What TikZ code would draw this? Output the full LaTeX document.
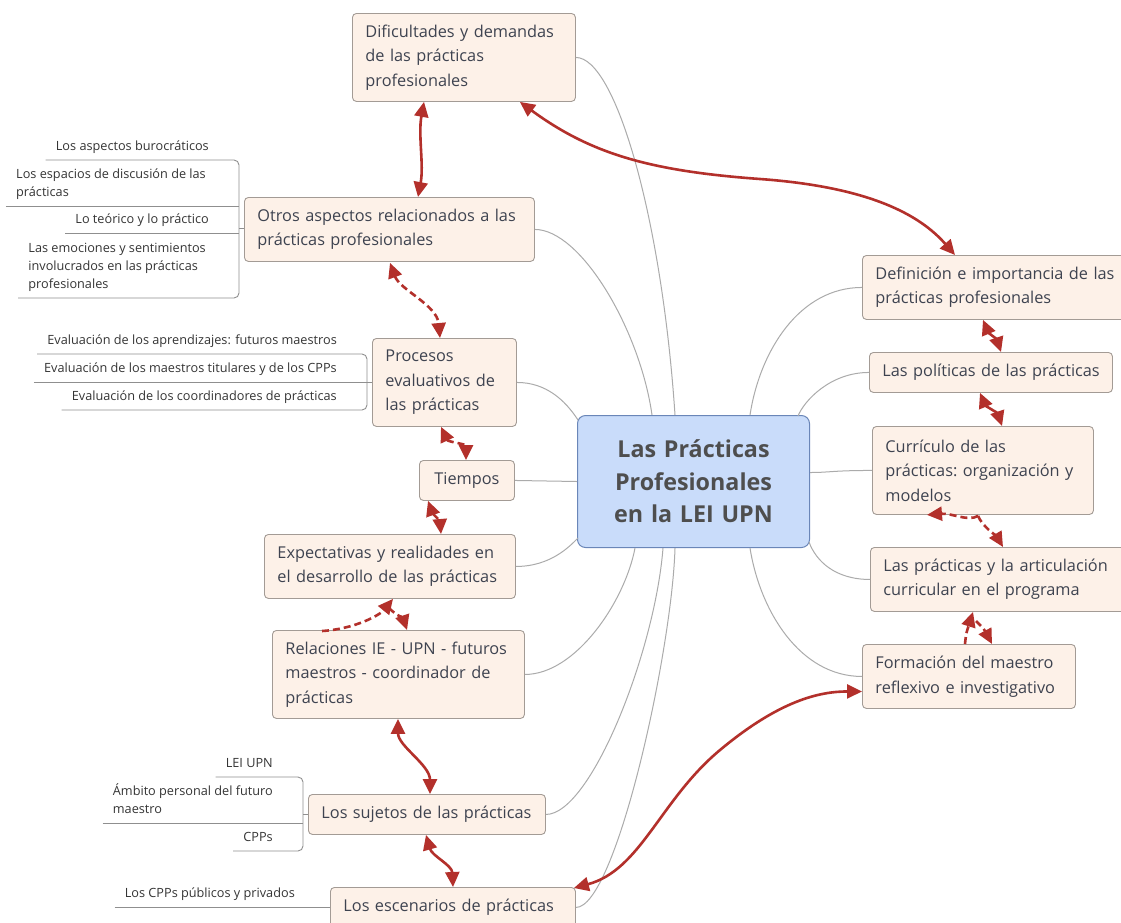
\documentclass[tikz,border=0pt]{standalone}
\usepackage{fontspec}
\setmainfont{Open Sans}
\usetikzlibrary{arrows.meta,calc}

\definecolor{relred}{HTML}{B3302B}
\definecolor{topicfill}{HTML}{FDF1E8}
\definecolor{topicline}{HTML}{A39B95}
\definecolor{topictext}{HTML}{3E4350}
\definecolor{hubfill}{HTML}{C9DCFA}
\definecolor{hubline}{HTML}{6A86B8}
\definecolor{hubtext}{HTML}{4E4E4E}
\definecolor{branchgray}{HTML}{ABABAB}
\definecolor{subgray}{HTML}{8F8F8F}
\definecolor{subtext}{HTML}{353535}

\newcommand\topicfont{\fontsize{16.3}{24.5}\selectfont\hyphenpenalty=10000\exhyphenpenalty=10000}
\newcommand\subfont{\fontsize{12.7}{18}\selectfont}
\newcommand\hubfont{\fontsize{23.3}{32.5}\selectfont\bfseries}

\begin{document}
\begin{tikzpicture}[x=1pt,y=-1pt,
  topic/.style={draw=topicline, fill=topicfill, rounded corners=4pt, line width=0.9pt,
    text=topictext, font=\topicfont, align=left, anchor=north west,
    inner xsep=13pt, inner ysep=0pt},
  hub/.style={draw=hubline, fill=hubfill, rounded corners=8pt, line width=1pt,
    text=hubtext, font=\hubfont, align=center, anchor=north west,
    inner xsep=8pt, inner ysep=0pt},
  subtxt/.style={font=\subfont, text=subtext, align=left, anchor=south east,
    inner xsep=10pt, inner ysep=4.2pt},
  subline/.style={draw=subgray, line width=0.9pt},
  branch/.style={draw=branchgray, line width=1pt},
  tipA/.tip={Triangle[length=15pt,width=14pt]},
  rel/.style={draw=relred, line width=2.6pt},
  reldash/.style={rel, dash pattern=on 7pt off 4pt},
]
\useasboundingbox (0,0) rectangle (1121,922);
\fill[white] (0,0) rectangle (1121,922);
\clip (0,0) rectangle (1121,922);

% ---------- central topic ----------
\node[hub, minimum width=232pt, minimum height=132pt, text width=216pt] (C) at (577,415)
  {Las Prácticas\\Profesionales\\en la LEI UPN};

% ---------- main topics, left side ----------
\node[topic, minimum width=223pt, minimum height=88pt, text width=197pt] (D) at (352,13)
  {Dificultades~y~demandas\\de~las~prácticas\\profesionales};
\node[topic, minimum width=290pt, minimum height=64pt, text width=264pt] (O) at (244,197)
  {Otros~aspectos~relacionados~a~las\\prácticas~profesionales};
\node[topic, minimum width=144pt, minimum height=88pt, text width=118pt] (P) at (372,338)
  {Procesos\\evaluativos~de\\las~prácticas};
\node[topic, minimum width=95pt, minimum height=40pt, text width=69pt, align=center] (T) at (419,460)
  {Tiempos};
\node[topic, minimum width=251pt, minimum height=64pt, text width=225pt] (E) at (264,534)
  {Expectativas~y~realidades~en\\el~desarrollo~de~las~prácticas};
\node[topic, minimum width=252pt, minimum height=88pt, text width=226pt] (R) at (272,630)
  {Relaciones~IE~-~UPN~-~futuros\\maestros~-~coordinador~de\\prácticas};
\node[topic, minimum width=237pt, minimum height=40pt, text width=211pt] (S) at (308,794)
  {Los~sujetos~de~las~prácticas};
\node[topic, minimum width=245pt, minimum height=40pt, text width=219pt] (Esc) at (330,887)
  {Los~escenarios~de~prácticas};

% ---------- main topics, right side ----------
\node[topic, minimum width=270pt, minimum height=64pt, text width=244pt] (Def) at (862,255)
  {Definición~e~importancia~de~las\\prácticas~profesionales};
\node[topic, minimum width=243pt, minimum height=40pt, text width=217pt] (Pol) at (869,352)
  {Las~políticas~de~las~prácticas};
\node[topic, minimum width=221pt, minimum height=88pt, text width=195pt] (Cur) at (872,426)
  {Currículo~de~las\\prácticas:~organización~y\\modelos};
\node[topic, minimum width=265pt, minimum height=64pt, text width=239pt] (Art) at (870,547)
  {Las~prácticas~y~la~articulación\\curricular~en~el~programa};
\node[topic, minimum width=213pt, minimum height=64pt, text width=187pt] (Form) at (862,644)
  {Formación~del~maestro\\reflexivo~e~investigativo};

% ---------- attachment points on the central topic ----------
\coordinate (cD)    at ($(C.north west)+(98,0)$);
\coordinate (cO)    at ($(C.north west)+(75,0)$);
\coordinate (cP)    at ($(C.north west)+(1,5)$);
\coordinate (cT)    at (C.west);
\coordinate (cE)    at ($(C.south west)+(1,-10)$);
\coordinate (cR)    at ($(C.south west)+(58,0)$);
\coordinate (cS)    at ($(C.south west)+(86,0)$);
\coordinate (cEsc)  at ($(C.south west)+(98,0)$);
\coordinate (cDef)  at ($(C.north west)+(173,0)$);
\coordinate (cPol)  at ($(C.north west)+(221,1)$);
\coordinate (cCur)  at ($(C.east)+(0,-9)$);
\coordinate (cArt)  at ($(C.south east)+(-1,-6)$);
\coordinate (cForm) at ($(C.south west)+(173,0)$);

% ---------- branches from the central topic ----------
\draw[branch] (D.east) .. controls +(40,0) and +(-13,-195) .. (cD);
\draw[branch] (O.east) .. controls +(46,0) and +(-12,-85) .. (cO);
\draw[branch] (P.east) .. controls +(29,0) and +(-13,-20) .. (cP);
\draw[branch] (T.east) -- (cT);
\draw[branch] (E.east) .. controls +(35,0) and +(-8,8) .. (cE);
\draw[branch] (R.east) .. controls +(51,0) and +(-10,53) .. (cR);
\draw[branch] (S.east) .. controls +(45,0) and +(-8,103) .. (cS);
\draw[branch] (Esc.east) .. controls +(40,0) and +(-3,103) .. (cEsc);
\draw[branch] (Def.west) .. controls +(-62,0) and +(10,-65) .. (cDef);
\draw[branch] (Pol.west) .. controls +(-39,0) and +(6,-15) .. (cPol);
\draw[branch] (Cur.west) .. controls +(-40,0) and +(20,0) .. (cCur);
\draw[branch] (Art.west) .. controls +(-35,0) and +(7,19) .. (cArt);
\draw[branch] (Form.west) .. controls +(-62,0) and +(10,63) .. (cForm);

% ---------- subtopics of "Otros aspectos" ----------
\coordinate (bx1) at (239,228);
\node[subtxt] (o1) at (219,160) {Los aspectos burocráticos\strut};
\node[subtxt] (o2) at (216,206) {Los espacios de discusión de las\\prácticas\strut};
\node[subtxt] (o3) at (219,233) {Lo teórico y lo práctico\strut};
\node[subtxt] (o4) at (216,298) {Las emociones y sentimientos\\involucrados en las prácticas\\profesionales\strut};
\draw[subline, rounded corners=5pt] (o1.south west) -- (o1.south west -| bx1)
  -- (o4.south west -| bx1) -- (o4.south west);
\draw[subline] (o2.south west) -- (o2.south west -| bx1);
\draw[subline] (o3.south west) -- (o3.south west -| bx1);
\draw[subline] (bx1) -- (bx1 -| O.west);

% ---------- subtopics of "Procesos evaluativos" ----------
\coordinate (bx2) at (367,382);
\node[subtxt] (p1) at (347,354) {Evaluación de los aprendizajes: futuros maestros\strut};
\node[subtxt] (p2) at (347,382) {Evaluación de los maestros titulares y de los CPPs\strut};
\node[subtxt] (p3) at (347,410) {Evaluación de los coordinadores de prácticas\strut};
\draw[subline, rounded corners=5pt] (p1.south west) -- (p1.south west -| bx2)
  -- (p3.south west -| bx2) -- (p3.south west);
\draw[subline] (p2.south west) -- (p2.south west -| P.west);

% ---------- subtopics of "Los sujetos" ----------
\coordinate (bx3) at (303,814);
\node[subtxt] (u1) at (283,777) {LEI UPN\strut};
\node[subtxt] (u2) at (283,823) {Ámbito personal del futuro\\maestro\strut};
\node[subtxt] (u3) at (283,851) {CPPs\strut};
\draw[subline, rounded corners=5pt] (u1.south west) -- (u1.south west -| bx3)
  -- (u3.south west -| bx3) -- (u3.south west);
\draw[subline] (u2.south west) -- (u2.south west -| bx3);
\draw[subline] (bx3) -- (bx3 -| S.west);

% ---------- subtopic of "Los escenarios" ----------
\node[subtxt] (e1) at (305,907) {Los CPPs públicos y privados\strut};
\draw[subline] (e1.south west) -- (e1.south west -| Esc.west);

% ---------- relationships ----------
% Dificultades <-> Otros aspectos
\draw[rel, tipA-tipA] ($(D.south west)+(72,0)$) .. controls +(-6,33) and +(6,-32)
  .. ($(O.north west)+(174,0)$);
% Dificultades <-> Definicion
\coordinate (m2) at (760,179);
\draw[rel, tipA-tipA] ($(D.south east)+(-56,0)$) .. controls +(71,52) and +(-110,-8)
  .. (m2) .. controls +(110,8) and +(-35,-40) .. ($(Def.north west)+(93,0)$);
% Otros aspectos <-> Procesos
\draw[reldash, tipA-tipA] ($(O.south west)+(146,1)$) .. controls +(10,27) and +(-3,-33)
  .. ($(P.north west)+(68,0)$);
% Procesos <-> Tiempos
\draw[reldash, tipA-tipA] ($(P.south west)+(69,0)$) .. controls +(7,15) and +(0,-16)
  .. ($(T.north west)+(47,0)$);
% Tiempos <-> Expectativas
\draw[reldash, tipA-tipA] ($(T.south west)+(9,0)$) .. controls +(4,11) and +(-1,-12)
  .. ($(E.north west)+(177,0)$);
% Expectativas <-> Relaciones
\coordinate (apx6) at (389,608);
\draw[reldash, -tipA] ($(R.north west)+(50,1)$) .. controls +(33,-2) and +(-13,16)
  .. ($(E.south west)+(129,0)$);
\draw[reldash, -tipA] (apx6) .. controls +(8,8) and +(-4,-12) .. ($(R.north west)+(135,0)$);
% Relaciones <-> Los sujetos
\draw[rel, tipA-tipA] ($(R.south west)+(126,0)$) .. controls +(0,27) and +(0,-29)
  .. ($(S.north west)+(122,0)$);
% Los sujetos <-> Los escenarios
\draw[rel, tipA-tipA] ($(S.south west)+(118,0)$) .. controls +(6,21) and +(-1,-22)
  .. ($(Esc.north west)+(123,0)$);
% Los escenarios <-> Formacion
\coordinate (m9) at (720,750);
\draw[rel, tipA-tipA] ($(Esc.north east)+(-2,1)$) .. controls +(67,-18) and +(-60,50)
  .. (m9) .. controls +(60,-50) and +(-42,0) .. ($(Form.west)+(0,15)$);
% Definicion <-> Las politicas
\draw[rel, tipA-tipA] ($(Def.south west)+(121,0)$) .. controls +(5,12) and +(-4,-12)
  .. ($(Pol.north west)+(132,0)$);
% Las politicas <-> Curriculo
\draw[rel, tipA-tipA] ($(Pol.south west)+(111,0)$) .. controls +(5,12) and +(-4,-12)
  .. ($(Cur.north west)+(130,0)$);
% Curriculo <-> Articulacion
\coordinate (apx12) at ($(Cur.south west)+(106,1)$);
\draw[reldash, -tipA] (apx12) .. controls +(-10,6) and +(25,-2) .. ($(Cur.south west)+(55,0)$);
\draw[reldash, -tipA] (apx12) .. controls +(4,10) and +(-6,-10) .. ($(Art.north west)+(133,0)$);
% Articulacion <-> Formacion
\coordinate (apx13) at (976,621);
\draw[reldash, -tipA] ($(Form.north west)+(103,0)$) .. controls +(1,-10) .. ($(Art.south west)+(103,0)$);
\draw[reldash, -tipA] (apx13) .. controls +(8,8) .. ($(Form.north west)+(130,0)$);
\end{tikzpicture}
\end{document}
